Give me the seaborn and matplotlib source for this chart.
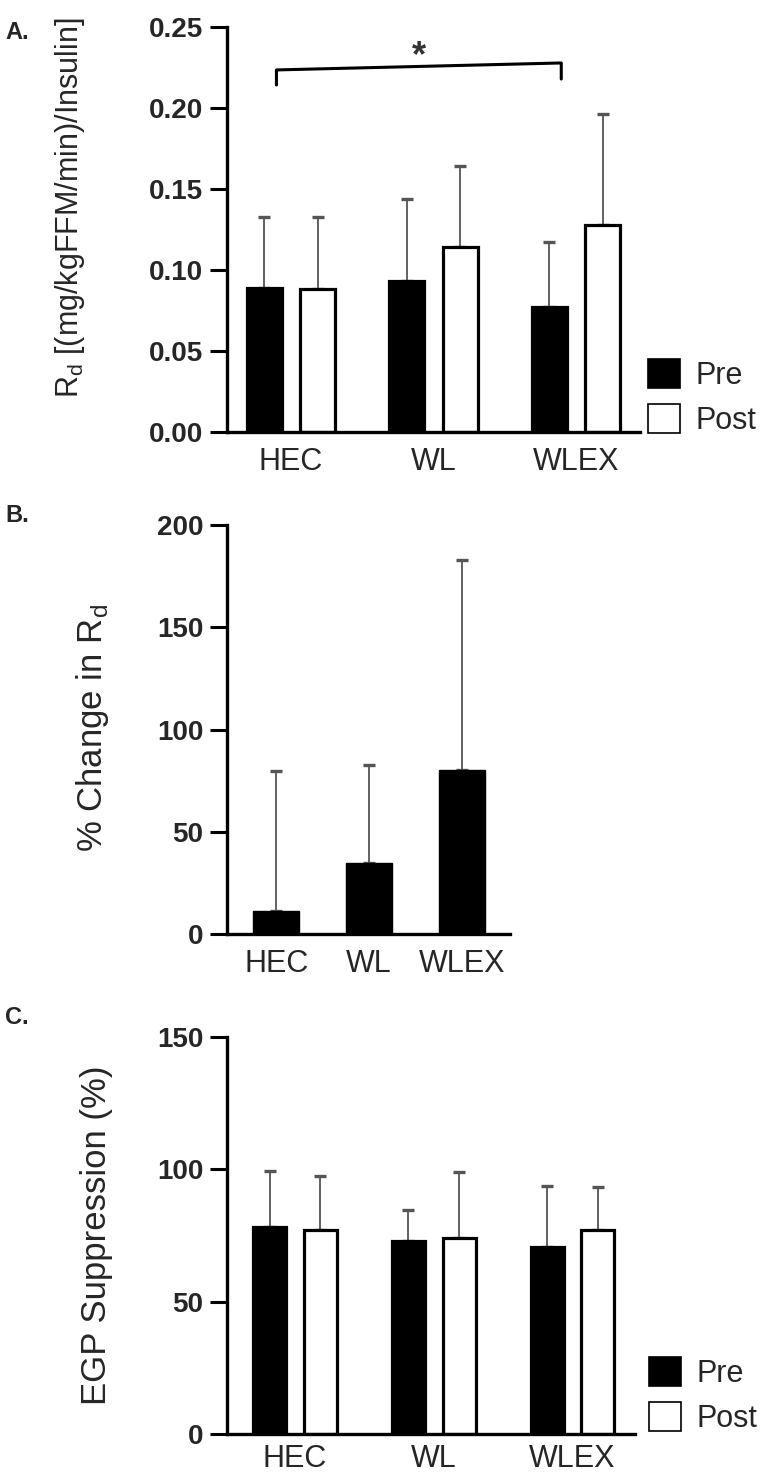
import pandas as pd
import numpy as np
import matplotlib
matplotlib.use("Agg")
import matplotlib.pyplot as plt
from matplotlib.patches import Patch
import seaborn as sns

# ---- data ----
groups = ["HEC", "WL", "WLEX"]
times = ["Pre", "Post"]

rd_pre = [0.089, 0.093, 0.077]
rd_pre_sd = [0.044, 0.051, 0.040]
rd_post = [0.088, 0.114, 0.128]
rd_post_sd = [0.045, 0.050, 0.068]

pct_change = [11.2, 34.7, 80.2]
pct_change_sd = [68.5, 48.0, 102.7]

egp_pre = [78.4, 73.1, 70.8]
egp_pre_sd = [20.8, 11.7, 22.8]
egp_post = [76.9, 73.9, 76.9]
egp_post_sd = [20.4, 25.0, 16.5]

# significance bracket (HEC Pre vs WLEX Pre)
bracket_left = (0.2142, 0.2235)
bracket_right = (0.2179, 0.2278)
star_y = 0.2315

sns.set_style("ticks")
plt.rcParams["font.family"] = ["Liberation Sans", "DejaVu Sans"]

W, H = 764, 1476
fig = plt.figure(figsize=(W / 100, H / 100), dpi=100)


def box(x0, x1, ytop, ybot):
    return [x0 / W, 1 - ybot / H, (x1 - x0) / W, (ybot - ytop) / H]


def style_axis(ax, xpad=11):
    sns.despine(ax=ax)
    for s in ("left", "bottom"):
        ax.spines[s].set_linewidth(2.4)
        ax.spines[s].set_color("black")
    ax.tick_params(axis="y", length=12, width=2.2, pad=5, labelsize=20, color="black")
    ax.tick_params(axis="x", length=0, pad=xpad, labelsize=22)
    for lab in ax.get_yticklabels():
        lab.set_fontweight("bold")
    ax.set_xlabel("")


def add_errors(ax, sds):
    for cont, sd in zip(ax.containers, sds):
        xs = [b.get_x() + b.get_width() / 2 for b in cont]
        ys = [b.get_height() for b in cont]
        ax.errorbar(xs, ys, yerr=[np.zeros(len(sd)), sd], fmt="none",
                    ecolor="#555555", elinewidth=1.3, capsize=4.5,
                    capthick=2.4, zorder=1)


def paired_bars(ax, pre, post, width):
    df = pd.DataFrame({
        "group": groups * 2,
        "time": ["Pre"] * 3 + ["Post"] * 3,
        "value": pre + post,
    })
    sns.barplot(data=df, x="group", y="value", hue="time", order=groups,
                hue_order=times, palette={"Pre": "black", "Post": "white"},
                edgecolor="black", linewidth=2.3, width=width, gap=0.35,
                errorbar=None, legend=False, ax=ax, zorder=2)


def add_legend(ax, x, y):
    handles = [Patch(facecolor="black", edgecolor="black", linewidth=1.2),
               Patch(facecolor="white", edgecolor="black", linewidth=1.2)]
    ax.legend(handles, times, loc="lower left", bbox_to_anchor=(x, y),
              frameon=False, fontsize=22, handlelength=1.05, handleheight=1.1,
              handletextpad=0.5, labelspacing=0.42, borderpad=0,
              borderaxespad=0)


# ---- panel A ----
axA = fig.add_axes(box(227, 640, 27, 432))
paired_bars(axA, rd_pre, rd_post, 0.755)
add_errors(axA, [rd_pre_sd, rd_post_sd])
axA.set_ylim(0, 0.25)
axA.set_xlim(-0.45, 2.45)
axA.set_yticks(np.arange(0, 0.26, 0.05))
axA.set_yticklabels([f"{v:.2f}" for v in np.arange(0, 0.26, 0.05)])
axA.set_ylabel(r"R$_\mathregular{d}$ [(mg/kgFFM/min)/Insulin]", fontsize=22)
axA.yaxis.set_label_coords(-0.34, 0.555)
style_axis(axA)
add_legend(axA, 1.02, -0.01)

# bracket ends sit near the right edge of the Pre bars
pre_bars = axA.containers[0]
xl = pre_bars[0].get_x() + 0.85 * pre_bars[0].get_width()
xr = pre_bars[2].get_x() + 0.85 * pre_bars[2].get_width()
axA.plot([xl, xl, xr, xr],
         [bracket_left[0], bracket_left[1], bracket_right[1], bracket_right[0]],
         color="black", lw=2.2, clip_on=False, zorder=3)
axA.text((xl + xr) / 2, star_y, "*", ha="center", va="center", fontsize=26,
         fontweight="bold", color="#333333")

# ---- panel B ----
axB = fig.add_axes(box(227, 510, 525, 934))
dfB = pd.DataFrame({"group": groups, "value": pct_change})
sns.barplot(data=dfB, x="group", y="value", order=groups, color="black",
            edgecolor="black", linewidth=1, width=0.5, errorbar=None,
            ax=axB, zorder=2)
add_errors(axB, [pct_change_sd])
axB.set_ylim(0, 200)
axB.set_xlim(-0.53, 2.52)
axB.set_yticks([0, 50, 100, 150, 200])
axB.set_ylabel(r"% Change in R$_\mathregular{d}$", fontsize=25)
axB.yaxis.set_label_coords(-0.41, 0.504)
style_axis(axB)

# ---- panel C ----
axC = fig.add_axes(box(227, 635, 1037, 1434))
paired_bars(axC, egp_pre, egp_post, 0.73)
add_errors(axC, [egp_pre_sd, egp_post_sd])
axC.set_ylim(0, 150)
axC.set_xlim(-0.49, 2.45)
axC.set_yticks([0, 50, 100, 150])
axC.set_ylabel("EGP Suppression (%)", fontsize=25)
axC.yaxis.set_label_coords(-0.28, 0.50)
style_axis(axC, xpad=7)
add_legend(axC, 1.035, 0.0)

# panel letters
for letter, ytop in (("A.", 21), ("B.", 504), ("C.", 1006)):
    fig.text(5 / W, 1 - ytop / H, letter, fontsize=17, fontweight="bold",
             va="top", ha="left")

fig.savefig("out.png", dpi=100)
